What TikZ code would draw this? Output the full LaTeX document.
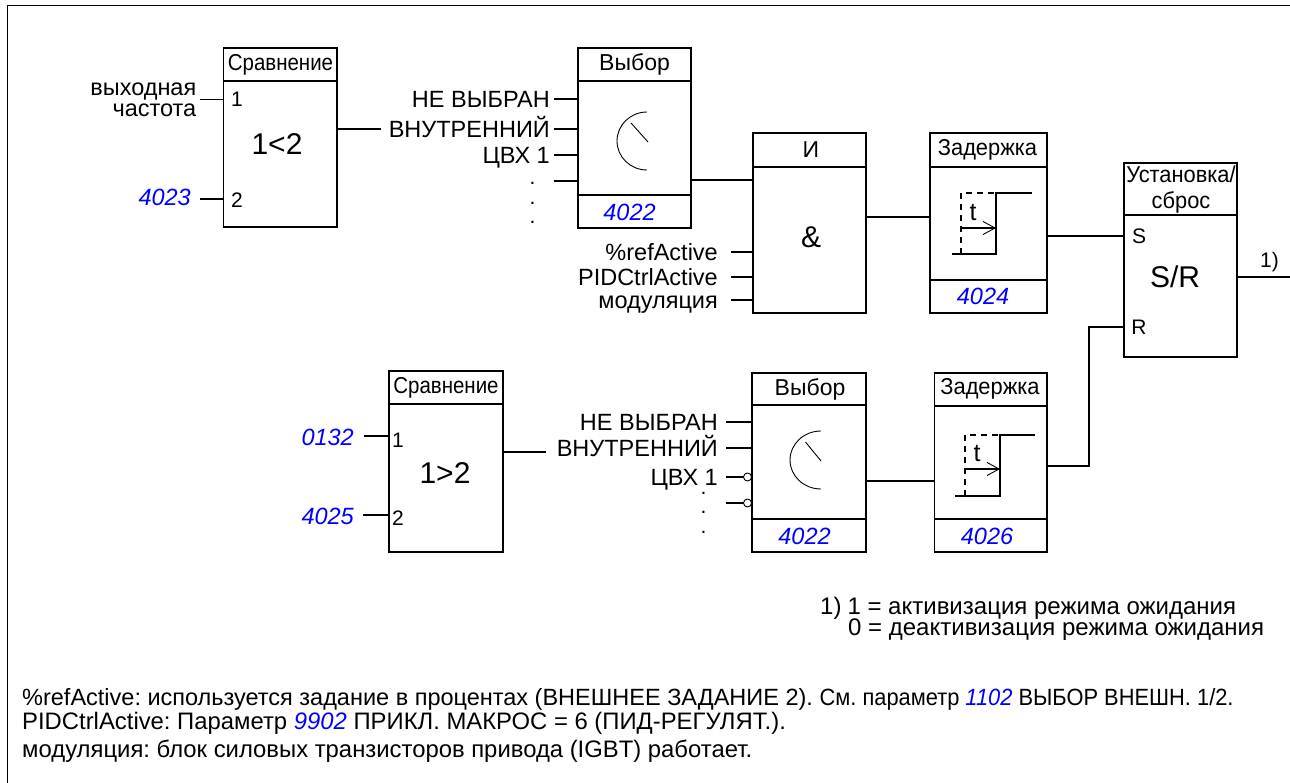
\documentclass[tikz,border=0pt]{standalone}
\usepackage{fontspec}
\setmainfont{Liberation Sans}
\newfontfamily\narrowfont[FakeStretch=0.89]{Liberation Sans}
\newfontfamily\slimfont[FakeStretch=0.95]{Liberation Sans}
\newfontfamily\tightfont[FakeStretch=0.93, ItalicFont={Liberation Sans Italic}]{Liberation Sans}
\usetikzlibrary{arrows.meta, positioning, calc}
\definecolor{parblue}{HTML}{0000FF}
\newcommand{\pxfont}[1]{\fontsize{#1}{#1}\selectfont}
\newcommand{\parnum}[1]{\textcolor{parblue}{\textit{#1}}}
\tikzset{
  blockbox/.style={draw=black, line width=1.7pt, inner sep=0pt, outer sep=0pt},
  wire/.style={draw=black, line width=1.7pt},
  thinwire/.style={draw=black, line width=0.9pt},
  siglabel/.style={inner sep=0pt, text height=17pt, text depth=0pt, font=\pxfont{23.5}},
  headlabel/.style={inner sep=0pt, font=\pxfont{23}},
  parlabel/.style={inner sep=0pt, text height=17pt, text depth=0pt, font=\pxfont{23.5}\itshape, text=parblue},
  portlabel/.style={inner sep=0pt, font=\pxfont{21}},
  biglabel/.style={inner sep=0pt, font=\pxfont{30}},
  notetext/.style={inner sep=0pt, anchor=base west, font=\pxfont{24}},
}
\begin{document}
\frenchspacing
\begin{tikzpicture}[x=1pt, y=-1pt]
  \useasboundingbox (0,0) rectangle (1290,783);
  \draw[line width=1pt] (7,783) -- (7,6) -- (1290,6);

  % blocks: name / left / top / right / bottom / header line
  \foreach \name/\xa/\ya/\xb/\yb/\yh in {cmpa/223.5/48/337/227/81, sela/578/48/691/228/81,
      anda/753/133/866/313/167, dlya/930/133/1047/313/167, srff/1124/163/1237/357/215,
      cmpb/389/371/503/552/404, selb/752/373/866/552/405, dlyb/934.5/373/1047/552/406}{%
    \node[blockbox, minimum width={(\xb-\xa)*1pt}, minimum height={(\yb-\ya)*1pt}]
      (\name) at ({(\xa+\xb)/2},{(\ya+\yb)/2}) {};
    \draw[blockbox] (\name.west |- 0,\yh) -- (\name.east |- 0,\yh);}
  % footer lines
  \foreach \name/\yf in {sela/195, dlya/280, selb/519, dlyb/519}{%
    \draw[blockbox] (\name.west |- 0,\yf) -- (\name.east |- 0,\yf);}

  % block titles
  \node[headlabel, font=\pxfont{23}\narrowfont] (cmpaHead) at (280.5,64.5) {Сравнение};
  \node[headlabel] (selaHead) at (634.5,64.5) {Выбор};
  \node[headlabel] (andaHead) at (811,150) {И};
  \node[headlabel, font=\pxfont{23}\slimfont] (dlyaHead) at (987.5,150) {Задержка};
  \node[headlabel, font=\pxfont{23}\slimfont, align=center] (srffHead) at (1181,190) {Установка/\\[3pt]сброс};
  \node[headlabel, font=\pxfont{23}\narrowfont] (cmpbHead) at (446,388) {Сравнение};
  \node[headlabel] (selbHead) at (810,389) {Выбор};
  \node[headlabel, font=\pxfont{23}\slimfont] (dlybHead) at (990,389) {Задержка};

  % block functions
  \node[biglabel] (cmpaFunc) at (277,144) {1<2};
  \node[biglabel] (andaFunc) at (811,237) {\&};
  \node[biglabel] (srffFunc) at (1175,277) {S/R};
  \node[biglabel] (cmpbFunc) at (445,473) {1>2};

  % parameter numbers
  \node[parlabel, anchor=east] (cmpaPar) at (191,197) {4023};
  \node[parlabel] (selaPar) at (629.5,212) {4022};
  \node[parlabel] (dlyaPar) at (983,296) {4024};
  \node[parlabel, anchor=east] (cmpbParA) at (354,437) {0132};
  \node[parlabel, anchor=east] (cmpbParB) at (354,516) {4025};
  \node[parlabel] (selbPar) at (804.5,536) {4022};
  \node[parlabel] (dlybPar) at (987,536) {4026};

  % comparator ports
  \node[portlabel] (cmpaOne) at (237,99) {1};
  \node[portlabel] (cmpaTwo) at (237,200) {2};
  \node[portlabel] (cmpbOne) at (398,440) {1};
  \node[portlabel] (cmpbTwo) at (398,518) {2};
  \node[portlabel] (srffSet) at (1139,236) {S};
  \node[portlabel] (srffRes) at (1139,327) {R};

  \node[inner sep=0pt, font=\pxfont{23.5}, align=right, anchor=east] (freqLabel) at (196.5,100)
    {выходная\\[-2pt]частота};
  \coordinate (cmpaInA) at (199.5,99.5);
  \coordinate (cmpaInB) at (200,199);
  \coordinate (cmpbInA) at (364,436);
  \coordinate (cmpbInB) at (363,515);
  \foreach \pin/\blk in {cmpaInA/cmpa, cmpaInB/cmpa, cmpbInA/cmpb, cmpbInB/cmpb}{%
    \draw[wire] (\pin) -- (\blk.west |- \pin);}

  % selector inputs
  \foreach \y/\lab [count=\i] in {99/НЕ ВЫБРАН, 129/ВНУТРЕННИЙ, 155/ЦВХ 1, 181/}{%
    \coordinate (selaIn\i) at (553.5,\y);
    \node[siglabel, left=3.5pt of selaIn\i] (selaLab\i) {\lab};
    \draw[wire] (selaIn\i) -- (sela.west |- selaIn\i);}
  \foreach \y/\lab [count=\i] in {422/НЕ ВЫБРАН, 448/ВНУТРЕННИЙ, 477/ЦВХ 1, 503/}{%
    \coordinate (selbIn\i) at (726,\y);
    \node[siglabel, left=8pt of selbIn\i] (selbLab\i) {\lab};
    \draw[wire] (selbIn\i) -- (selb.west |- selbIn\i);}
  \foreach \i in {3,4}{%
    \node[draw=black, line width=0.9pt, fill=white, circle, minimum size=8pt, inner sep=0pt]
      (selbInv\i) at ($(selb.west |- selbIn\i)+(-4.5,0)$) {};}

  % dots
  \foreach \y [count=\i] in {183,203,222}{%
    \node[portlabel] (selaDot\i) at (532.6,\y) {.};}
  \foreach \y [count=\i] in {493,512,532}{%
    \node[portlabel] (selbDot\i) at (703.5,\y) {.};}

  % and inputs
  \foreach \y/\lab [count=\i] in {252/\%refActive, 277/PIDCtrlActive, 300/модуляция}{%
    \coordinate (andaIn\i) at (731,\y);
    \node[siglabel, left=13pt of andaIn\i] (andaLab\i) {\lab};
    \draw[wire] (andaIn\i) -- (anda.west |- andaIn\i);}

  % dials
  \draw[thinwire] (647,112) arc[start angle=-90, end angle=-270, x radius=30, y radius=29];
  \draw[thinwire] (631,123) -- (648,142);
  \draw[thinwire] (821,431) arc[start angle=-90, end angle=-270, x radius=31, y radius=29];
  \draw[thinwire] (805.5,442) -- (821,461);

  % step symbols
  \foreach \xa/\xb/\ya/\yb/\xr/\name/\yt in {952/961/193/254/1032/stepa/228, 955/965/435/496/1035/stepb/469}{%
    \pgfmathsetmacro{\xs}{\xb+35}
    \draw[wire] (\xa,\yb) -- (\xs,\yb) -- (\xs,\ya) -- (\xr,\ya);
    \draw[wire, dash pattern=on 6pt off 5pt] (\xb,\yb) -- (\xb,\ya) -- (\xs,\ya);
    \draw[wire, -{Straight Barb[length=12pt, width=13pt, line width=0.9pt]}] (\xb,\yt) -- (\xs,\yt);
    \node[portlabel, font=\pxfont{25}] (\name) at (\xb+12,\yt-15) {t};}

  % connections
  \coordinate (cmpaOut) at (381,129);
  \coordinate (cmpbOut) at (546,452);
  \draw[wire] (cmpa.east |- cmpaOut) -- (cmpaOut);
  \draw[wire] (cmpb.east |- cmpbOut) -- (cmpbOut);
  \draw[wire] (sela.east |- 0,180) -- (anda.west |- 0,180);
  \draw[wire] (anda.east |- 0,217) -- (dlya.west |- 0,217);
  \draw[wire] (dlya.east |- 0,236) -- (srff.west |- 0,236);
  \draw[wire] (selb.east |- 0,481) -- (dlyb.west |- 0,481);
  \draw[wire] (dlyb.east |- 0,466) -| (1089,327) -- (srff.west |- 0,327);
  \coordinate (srffOut) at (1290,277);
  \draw[wire] (srff.east |- srffOut) -- (srffOut);
  \node[inner sep=0pt, font=\pxfont{21}] (outNote) at (1269.5,262) {1)};

  % notes
  \node[notetext] (legendA) at (820,614) {1)\hspace{6pt}1 = активизация режима ожидания};
  \node[notetext] (legendB) at (848,635) {0 = деактивизация режима ожидания};
  \node[notetext, font=\pxfont{23.5}] (noteA) at (22,705.5) {\%refActive: используется задание в процентах (ВНЕШНЕЕ ЗАДАНИЕ 2). {\tightfont См. параметр \parnum{1102} ВЫБОР ВНЕШН. 1/2.}};
  \node[notetext, font=\pxfont{23.85}] (noteB) at (22,729.5) {PIDCtrlActive: Параметр \parnum{9902} ПРИКЛ. МАКРОС = 6 (ПИД-РЕГУЛЯТ.).};
  \node[notetext, font=\pxfont{23.85}] (noteC) at (22,757) {модуляция: блок силовых транзисторов привода (IGBT) работает.};
\end{tikzpicture}
\end{document}
